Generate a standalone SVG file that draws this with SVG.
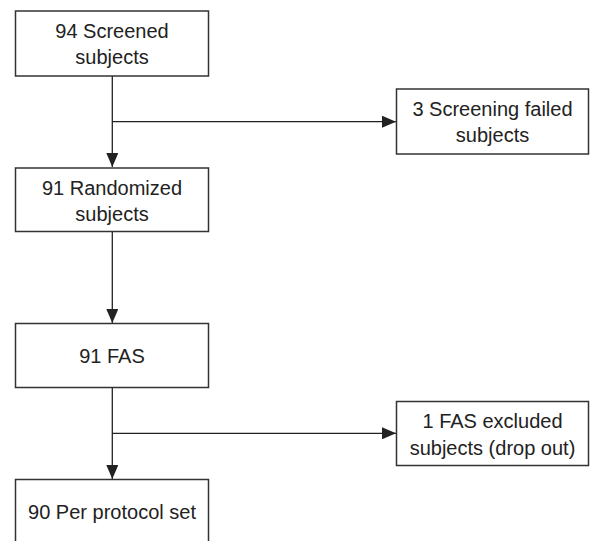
<svg xmlns="http://www.w3.org/2000/svg" width="590" height="541" viewBox="0 0 590 541">
<defs>
<style>
.box{fill:#fff;stroke:#333;stroke-width:1.5}
.t{font-family:"Liberation Sans",Arial,sans-serif;font-size:20px;fill:#222;text-anchor:middle}
.ln{fill:none;stroke:#222;stroke-width:1.3}
</style>
<marker id="ah" markerUnits="userSpaceOnUse" markerWidth="14" markerHeight="12" refX="14" refY="6" orient="auto">
<path d="M0,0 L14,6 L0,12 Z" fill="#222"/>
</marker>
</defs>
<rect width="590" height="541" fill="#fff"/>
<g id="connectors">
<path class="ln" d="M112.3,76 V167" marker-end="url(#ah)"/>
<path class="ln" d="M112.3,121.7 H396" marker-end="url(#ah)"/>
<path class="ln" d="M112.3,231.7 V323" marker-end="url(#ah)"/>
<path class="ln" d="M112.3,387.3 V479" marker-end="url(#ah)"/>
<path class="ln" d="M112.3,433.3 H396" marker-end="url(#ah)"/>
</g>
<g id="n1">
<rect class="box" x="15.5" y="11" width="193" height="65"/>
<text class="t" x="112" y="37.5">94 Screened</text>
<text class="t" x="112" y="63.5">subjects</text>
</g>
<g id="n2">
<rect class="box" x="396.5" y="89" width="192" height="65"/>
<text class="t" x="492.5" y="115.5">3 Screening failed</text>
<text class="t" x="492.5" y="142">subjects</text>
</g>
<g id="n3">
<rect class="box" x="15.5" y="168" width="193" height="63.5"/>
<text class="t" x="112" y="194.5">91 Randomized</text>
<text class="t" x="112" y="220.5">subjects</text>
</g>
<g id="n4">
<rect class="box" x="15.5" y="323.5" width="193" height="64"/>
<text class="t" x="112" y="363">91 FAS</text>
</g>
<g id="n5">
<rect class="box" x="396.5" y="401.5" width="192" height="64"/>
<text class="t" x="492.5" y="428">1 FAS excluded</text>
<text class="t" x="492.5" y="454.5">subjects (drop out)</text>
</g>
<g id="n6">
<rect class="box" x="15.5" y="479.5" width="193" height="70"/>
<text class="t" x="112" y="518.5">90 Per protocol set</text>
</g>
</svg>
